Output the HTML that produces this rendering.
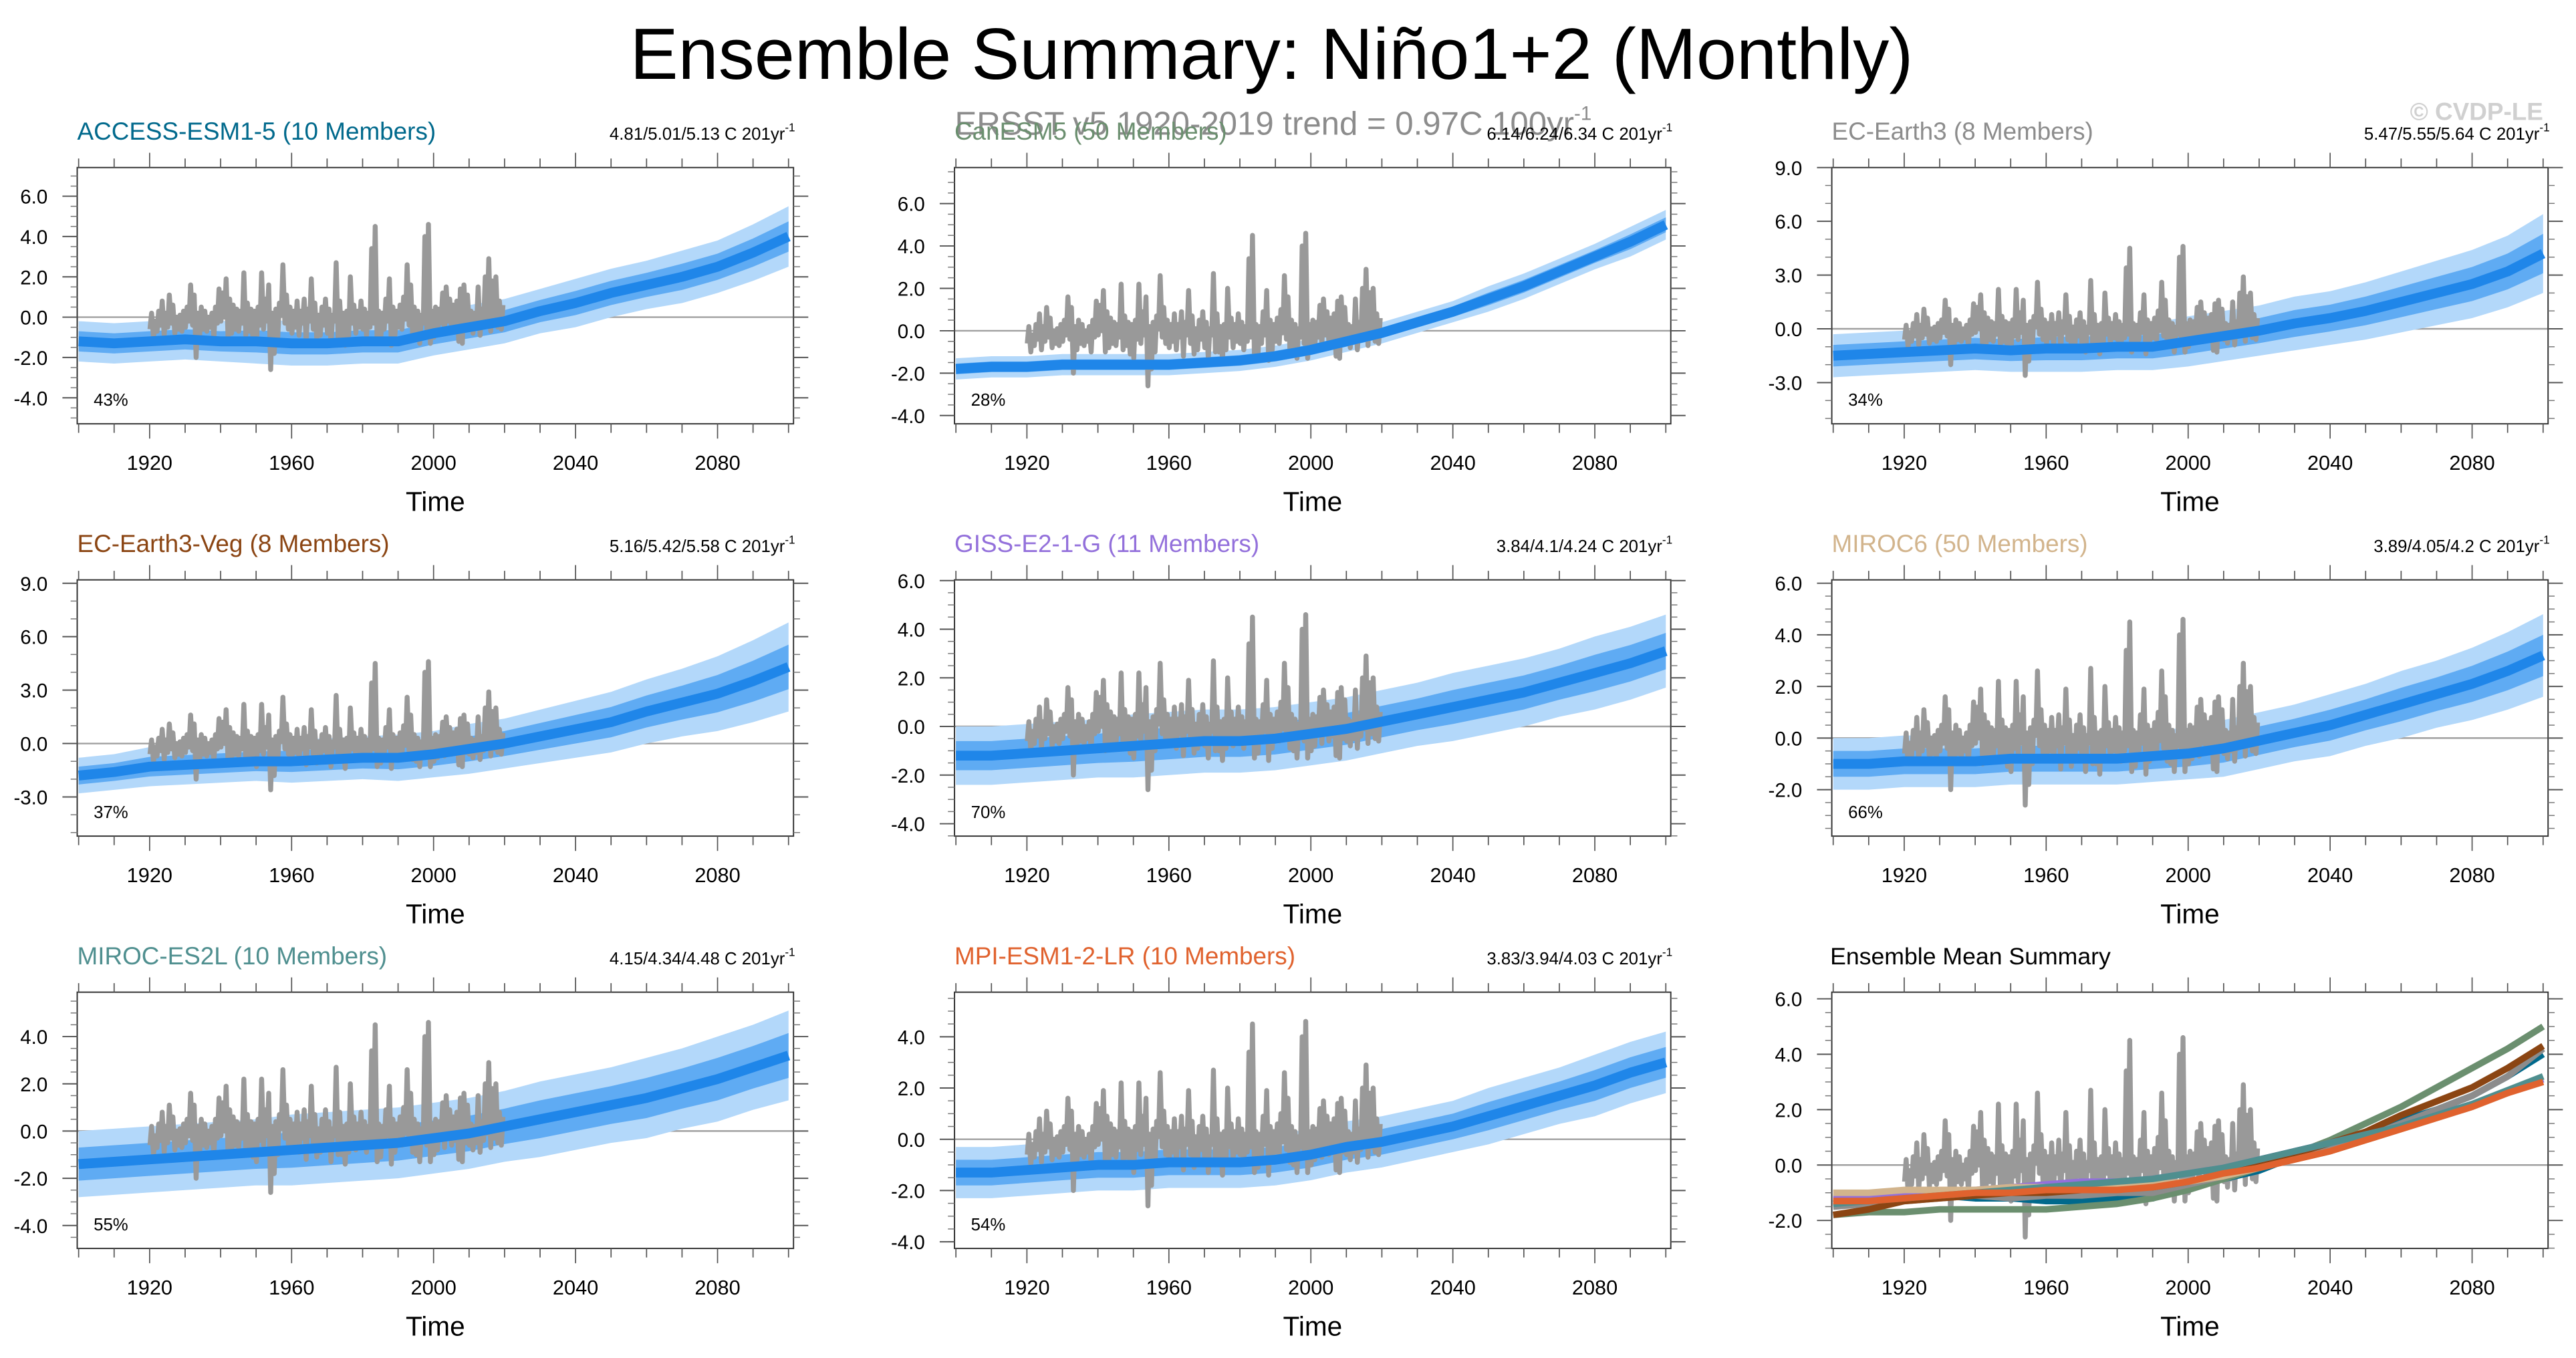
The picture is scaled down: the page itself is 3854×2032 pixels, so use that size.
<!DOCTYPE html>
<html><head><meta charset="utf-8">
<style>
html,body{margin:0;padding:0;background:#fff;}
svg{display:block;}
text{font-family:"Liberation Sans",sans-serif;}
</style></head>
<body>
<svg id="fig" width="3854" height="2032" viewBox="0 0 1568 826.7" preserveAspectRatio="none" xmlns="http://www.w3.org/2000/svg">
<rect x="0" y="0" width="1568" height="826.7" fill="#fff"/>
<text x="774" y="48" font-size="44" text-anchor="middle" fill="#000">Ensemble Summary: Niño1+2 (Monthly)</text>
<text x="775" y="82" font-size="20" text-anchor="middle" fill="#8c8c8c">ERSST v5 1920-2019 trend = 0.97C 100yr<tspan font-size="12" dy="-9">-1</tspan></text>
<text x="1548" y="73" font-size="15" font-weight="bold" text-anchor="end" fill="#d0d0d0">© CVDP-LE</text>
<g id="panels"></g>
</svg>
<script>
// Observations (ERSST v5), 1920-2019: annual peak & trough anomaly
const obsYears = [];
for (let y = 1920; y <= 2019; y++) obsYears.push(y);
const obsHi = [0.2,-0.2,0.3,0.8,0.2,1.1,0.6,0.0,0.1,0.3,
0.5,1.6,1.1,0.2,0.5,0.3,0.0,0.2,0.5,1.4,
1.2,1.9,0.9,0.6,0.4,0.3,2.2,0.7,0.4,0.3,
0.5,2.2,0.9,1.6,0.2,0.4,0.7,2.6,1.1,0.5,
0.3,0.8,0.3,0.9,0.4,1.9,0.7,0.1,0.5,0.9,
0.4,0.1,2.7,0.8,0.2,0.3,2.0,0.6,0.3,0.8,
0.4,0.2,3.4,4.5,0.3,0.2,0.9,1.9,0.5,0.3,
0.6,1.0,2.6,1.6,0.5,0.3,0.1,4.0,4.6,0.3,
0.5,0.4,1.2,1.5,0.9,0.6,0.8,1.4,1.6,1.1,
0.3,0.2,1.5,0.4,2.0,2.9,1.8,2.0,0.8,0.6];
const obsLo = [-0.6,-1.0,-0.7,-0.4,-0.9,-0.5,-0.3,-0.8,-0.6,-0.7,
-0.5,-0.2,-0.4,-2.0,-0.9,-0.6,-0.7,-0.5,-1.0,-0.3,
-0.2,0.0,-1.0,-0.8,-0.6,-0.7,-0.3,-0.9,-0.7,-1.1,
-1.3,-0.4,-0.6,-0.2,-2.6,-1.8,-1.0,0.1,-0.3,-0.6,
-0.8,-0.5,-0.9,-0.3,-1.2,-0.2,-0.6,-1.1,-0.9,-0.4,
-0.8,-1.3,-0.2,-1.0,-1.0,-1.4,-0.9,-0.3,-0.8,-0.5,
-0.6,-0.9,-0.5,-0.3,-1.3,-1.1,-0.6,-0.2,-1.4,-0.9,
-0.5,-0.6,-0.1,-0.4,-0.9,-1.0,-1.3,-0.3,-0.6,-1.3,
-1.0,-0.8,-0.3,-0.7,-0.2,-0.6,-0.4,-1.2,-1.3,-0.5,
-0.6,-0.8,-0.5,-0.9,-0.4,-0.1,-0.7,-0.3,-0.5,-0.6];

// Model ensemble means and spreads, decadal 1900-2100
const modelYears = [1900,1910,1920,1930,1940,1950,1960,1970,1980,1990,2000,2010,2020,2030,2040,2050,2060,2070,2080,2090,2100];
const meanACCESS = [-1.2,-1.3,-1.2,-1.1,-1.2,-1.2,-1.3,-1.3,-1.2,-1.2,-0.8,-0.5,-0.2,0.3,0.7,1.2,1.6,2.0,2.5,3.2,4.0];
const meanCanESM5 = [-1.8,-1.7,-1.7,-1.6,-1.6,-1.6,-1.6,-1.5,-1.4,-1.2,-0.9,-0.5,-0.1,0.4,0.9,1.5,2.1,2.8,3.5,4.2,5.0];
const meanECE3 = [-1.5,-1.4,-1.3,-1.2,-1.1,-1.2,-1.1,-1.1,-1.0,-1.0,-0.7,-0.4,-0.1,0.3,0.6,1.0,1.5,2.0,2.5,3.2,4.2];
const meanECE3Veg = [-1.8,-1.6,-1.3,-1.2,-1.1,-1.0,-1.0,-0.9,-0.8,-0.8,-0.6,-0.3,0.0,0.4,0.8,1.2,1.8,2.3,2.8,3.5,4.3];
const meanGISS = [-1.2,-1.2,-1.1,-1.0,-0.9,-0.8,-0.7,-0.6,-0.6,-0.5,-0.3,-0.1,0.2,0.5,0.8,1.1,1.4,1.8,2.2,2.6,3.1];
const meanMIROC6 = [-1.0,-1.0,-0.9,-0.9,-0.9,-0.8,-0.8,-0.8,-0.8,-0.7,-0.6,-0.4,-0.1,0.2,0.5,0.9,1.3,1.7,2.1,2.6,3.2];
const meanMIROCES2L = [-1.4,-1.3,-1.2,-1.1,-1.0,-0.9,-0.8,-0.7,-0.6,-0.5,-0.3,-0.1,0.2,0.5,0.8,1.1,1.4,1.8,2.2,2.7,3.2];
const meanMPI = [-1.3,-1.3,-1.2,-1.1,-1.0,-1.0,-0.9,-0.9,-0.9,-0.8,-0.6,-0.3,-0.1,0.2,0.5,0.9,1.3,1.7,2.1,2.6,3.0];
const spreadACCESS = [1.0,1.0,1.0,1.0,1.0,1.1,1.1,1.1,1.1,1.1,1.1,1.1,1.1,1.1,1.2,1.2,1.2,1.3,1.3,1.4,1.5];
const spreadCanESM5 = [0.5,0.5,0.5,0.5,0.5,0.5,0.5,0.5,0.5,0.5,0.5,0.5,0.5,0.5,0.5,0.6,0.6,0.6,0.6,0.7,0.7];
const spreadECE3 = [1.2,1.2,1.2,1.2,1.2,1.2,1.3,1.3,1.3,1.3,1.4,1.4,1.4,1.5,1.5,1.6,1.7,1.8,1.9,2.0,2.2];
const spreadECE3Veg = [1.0,1.0,1.1,1.1,1.1,1.1,1.2,1.2,1.2,1.3,1.3,1.4,1.4,1.5,1.6,1.7,1.8,1.9,2.1,2.3,2.5];
const spreadGISS = [1.2,1.2,1.2,1.2,1.2,1.3,1.3,1.3,1.3,1.3,1.3,1.3,1.3,1.3,1.4,1.4,1.4,1.4,1.5,1.5,1.5];
const spreadMIROC6 = [1.0,1.0,1.0,1.0,1.0,1.0,1.0,1.0,1.0,1.0,1.0,1.1,1.1,1.1,1.2,1.2,1.3,1.3,1.4,1.5,1.6];
const spreadMIROCES2L = [1.4,1.4,1.4,1.4,1.4,1.4,1.5,1.5,1.5,1.5,1.5,1.5,1.5,1.6,1.6,1.6,1.7,1.7,1.8,1.8,1.9];
const spreadMPI = [1.0,1.0,1.0,1.0,1.0,1.0,1.0,1.0,1.0,1.0,1.0,1.0,1.0,1.0,1.0,1.1,1.1,1.1,1.2,1.2,1.2];

const modelNames = ["ACCESS-ESM1-5 (10 Members)","CanESM5 (50 Members)","EC-Earth3 (8 Members)","EC-Earth3-Veg (8 Members)","GISS-E2-1-G (11 Members)","MIROC6 (50 Members)","MIROC-ES2L (10 Members)","MPI-ESM1-2-LR (10 Members)"];
const modelColors = ["#00698c","#6b8f6f","#8c8c8c","#8b4513","#9370db","#d2b48c","#4f8f8f","#e0622e"];
const trendLabels = ["4.81/5.01/5.13","6.14/6.24/6.34","5.47/5.55/5.64","5.16/5.42/5.58","3.84/4.1/4.24","3.89/4.05/4.2","4.15/4.34/4.48","3.83/3.94/4.03"];
const pctLabels = ["43%","28%","34%","37%","70%","66%","55%","54%"];
const means = [meanACCESS,meanCanESM5,meanECE3,meanECE3Veg,meanGISS,meanMIROC6,meanMIROCES2L,meanMPI];
const spreads = [spreadACCESS,spreadCanESM5,spreadECE3,spreadECE3Veg,spreadGISS,spreadMIROC6,spreadMIROCES2L,spreadMPI];
const yDomains = [[-5.29,7.42],[-4.39,7.7],[-5.3,9.0],[-5.2,9.19],[-4.51,6.03],[-3.8,6.13],[-4.97,5.88],[-4.26,5.74],[-3.01,6.24]];
const yTickLabels = [
 ["6.0","4.0","2.0","0.0","-2.0","-4.0"],["6.0","4.0","2.0","0.0","-2.0","-4.0"],["9.0","6.0","3.0","0.0","-3.0"],
 ["9.0","6.0","3.0","0.0","-3.0"],["6.0","4.0","2.0","0.0","-2.0","-4.0"],["6.0","4.0","2.0","0.0","-2.0"],
 ["4.0","2.0","0.0","-2.0","-4.0"],["4.0","2.0","0.0","-2.0","-4.0"],["6.0","4.0","2.0","0.0","-2.0"]];
const yMinorStep = [0.5,0.5,1.0,1.0,0.5,0.5,0.5,0.5,0.5];
const xTickLabels = ["1920","1960","2000","2040","2080"];

const NS = "http://www.w3.org/2000/svg";
const root = document.getElementById("panels");
function mk(tag, attrs, parent){ const e=document.createElementNS(NS,tag); for(const k in attrs) e.setAttribute(k,attrs[k]); parent.appendChild(e); return e; }

const W=436, H=156, X0=[47,581,1115], Y0=[102,353,604];
const xDom=[1899.6,2101.4];

for (let p=0;p<9;p++){
  const bx=X0[p%3], by=Y0[Math.floor(p/3)];
  const [ymin,ymax]=yDomains[p];
  const sx=v=>bx+(v-xDom[0])/(xDom[1]-xDom[0])*W;
  const sy=v=>by+H-(v-ymin)/(ymax-ymin)*H;
  const g=mk("g",{},root);
  
  
  const clipId="clip"+p;
  const cp=mk("clipPath",{id:clipId},g); mk("rect",{x:bx,y:by,width:W,height:H},cp);
  if (p<8){
    const t=mk("text",{x:bx,y:by-17,"font-size":15,fill:modelColors[p]},g); t.textContent=modelNames[p];
    
    
    const r=mk("text",{x:bx+W+1,y:by-17,"font-size":10.5,"text-anchor":"end",fill:"#000"},g);
    r.textContent=trendLabels[p]+" C 201yr";
    const sup=mk("tspan",{"font-size":7,dy:-5},r); sup.textContent="-1";
    
    
  } else {
    const t=mk("text",{x:bx-1,y:by-17,"font-size":14.5,fill:"#000"},g); t.textContent="Ensemble Mean Summary";
    
    
  }
  const plot=mk("g",{"clip-path":"url(#"+clipId+")"},g);
  mk("line",{x1:bx,x2:bx+W,y1:sy(0),y2:sy(0),stroke:"#a0a0a0","stroke-width":1},plot);
  const obsPts=[];
  obsYears.forEach((y,i)=>{ obsPts.push(sx(y+0.1)+","+sy(obsLo[i])); obsPts.push(sx(y+0.55)+","+sy(obsHi[i])); });
  if (p<8){
    const m=means[p], s=spreads[p];
    let up="",lo="",iu="",il="";
    modelYears.forEach((y,i)=>{ up+=sx(y)+","+sy(m[i]+s[i])+" "; lo=sx(y)+","+sy(m[i]-s[i])+" "+lo; iu+=sx(y)+","+sy(m[i]+s[i]*0.5)+" "; il=sx(y)+","+sy(m[i]-s[i]*0.5)+" "+il; });
    const band=mk("polygon",{points:up+lo,fill:"#b3d8fa"},plot);
    
    
    mk("polygon",{points:iu+il,fill:"#5fabf3"},plot);
    const ob=mk("polyline",{points:obsPts.join(" "),fill:"none",stroke:"#999","stroke-width":3,"stroke-linejoin":"round"},plot);
    
    
    const ml=mk("polyline",{points:modelYears.map((y,i)=>sx(y)+","+sy(m[i])).join(" "),fill:"none",stroke:"#1f86e9","stroke-width":6,"stroke-linejoin":"round"},plot);
    
    
    const pt=mk("text",{x:bx+10,y:by+H-11,"font-size":10.5,fill:"#000"},g); pt.textContent=pctLabels[p];
    
    
  } else {
    const ob=mk("polyline",{points:obsPts.join(" "),fill:"none",stroke:"#999","stroke-width":3,"stroke-linejoin":"round"},plot);
    
    
    for (let k=0;k<8;k++){
      const ml=mk("polyline",{points:modelYears.map((y,i)=>sx(y)+","+sy(means[k][i])).join(" "),fill:"none",stroke:modelColors[k],"stroke-width":4,"stroke-linejoin":"round"},plot);
      
      
    }
  }
  mk("rect",{x:bx,y:by,width:W,height:H,fill:"none",stroke:"#333","stroke-width":0.8},g);
  for (let y=1900;y<=2100;y+=10){
    const x=sx(y), major=(y-1920)%40===0;
    const L=major?9:5.5;
    mk("line",{x1:x,x2:x,y1:by,y2:by-L,stroke:"#555","stroke-width":0.7},g);
    mk("line",{x1:x,x2:x,y1:by+H,y2:by+H+L,stroke:"#555","stroke-width":0.7},g);
  }
  xTickLabels.forEach(lbl=>{
    const t=mk("text",{x:sx(+lbl),y:by+H+28,"font-size":12.5,"text-anchor":"middle",fill:"#000"},g); t.textContent=lbl;
    
    
  });
  const xt=mk("text",{x:bx+W/2,y:by+H+53,"font-size":16.5,"text-anchor":"middle",fill:"#000"},g); xt.textContent="Time";
  
  
  const st=yMinorStep[p];
  for (let v=Math.ceil(ymin/st)*st; v<=ymax+1e-9; v+=st){
    const yy=sy(v);
    mk("line",{x1:bx,x2:bx-4,y1:yy,y2:yy,stroke:"#777","stroke-width":0.6},g);
    mk("line",{x1:bx+W,x2:bx+W+4,y1:yy,y2:yy,stroke:"#777","stroke-width":0.6},g);
  }
  yTickLabels[p].forEach(lbl=>{
    const yy=sy(+lbl);
    mk("line",{x1:bx,x2:bx-9,y1:yy,y2:yy,stroke:"#555","stroke-width":0.8},g);
    mk("line",{x1:bx+W,x2:bx+W+9,y1:yy,y2:yy,stroke:"#555","stroke-width":0.8},g);
    const t=mk("text",{x:bx-18,y:yy+4.5,"font-size":12,"text-anchor":"end",fill:"#000"},g); t.textContent=lbl;
    
    
  });
}
</script>
</body></html>
